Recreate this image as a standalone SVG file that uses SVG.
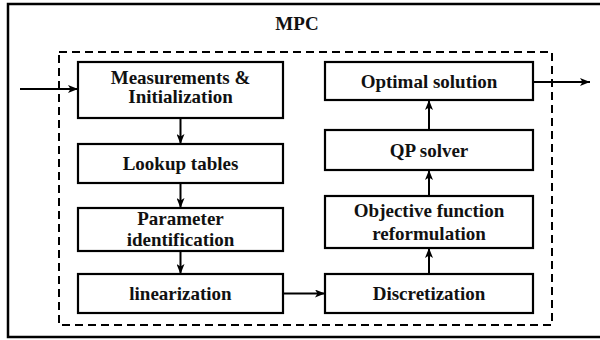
<svg xmlns="http://www.w3.org/2000/svg" width="600" height="340" viewBox="0 0 600 340">
<style>
.box{fill:#fff;stroke:#000;stroke-width:2.2}
.t{font-family:"Liberation Serif","Times New Roman",serif;font-weight:bold;font-size:19px;text-anchor:middle;fill:#111}
.c{stroke:#000;stroke-width:2;fill:none;marker-end:url(#ah)}
</style>
<defs>
<marker id="ah" viewBox="0 0 10 8" refX="10" refY="4" markerWidth="10" markerHeight="8" markerUnits="userSpaceOnUse" orient="auto">
<path d="M0,0 L10,4 L0,8 L2.5,4 Z" fill="#000"/>
</marker>
</defs>
<rect width="600" height="340" fill="#fff"/>
<rect x="8" y="4" width="600" height="333" fill="none" stroke="#000" stroke-width="2.5"/>
<text x="297" y="30" class="t" style="font-size:19px">MPC</text>
<rect x="59" y="52" width="493" height="273" fill="none" stroke="#000" stroke-width="2" stroke-dasharray="8,5"/>
<g id="n1"><rect class="box" x="78" y="62" width="205" height="56"/><text class="t" x="180.5" y="84">Measurements &amp;</text><text class="t" x="180.5" y="103">Initialization</text></g>
<g id="n2"><rect class="box" x="78" y="144" width="205" height="39"/><text class="t" x="180.5" y="170">Lookup tables</text></g>
<g id="n3"><rect class="box" x="78" y="208" width="205" height="43"/><text class="t" x="180.5" y="225">Parameter</text><text class="t" x="180.5" y="246">identification</text></g>
<g id="n4"><rect class="box" x="78" y="274" width="205" height="39"/><text class="t" x="180.5" y="300">linearization</text></g>
<g id="n5"><rect class="box" x="325" y="274" width="208" height="39"/><text class="t" x="429" y="300">Discretization</text></g>
<g id="n6"><rect class="box" x="325" y="196" width="208" height="52"/><text class="t" x="429" y="217">Objective function</text><text class="t" x="429" y="240">reformulation</text></g>
<g id="n7"><rect class="box" x="325" y="130" width="208" height="40"/><text class="t" x="429" y="157">QP solver</text></g>
<g id="n8"><rect class="box" x="325" y="62" width="208" height="38"/><text class="t" x="429" y="88">Optimal solution</text></g>
<g id="connectors">
<path class="c" d="M20,89 L78,89"/>
<path class="c" d="M180.5,118 L180.5,144"/>
<path class="c" d="M180.5,183 L180.5,208"/>
<path class="c" d="M180.5,251 L180.5,274"/>
<path class="c" d="M283,293.5 L325,293.5"/>
<path class="c" d="M429,274 L429,248"/>
<path class="c" d="M429,196 L429,170"/>
<path class="c" d="M429,130 L429,100"/>
<path class="c" d="M533,82 L590,82"/>
</g>
</svg>
